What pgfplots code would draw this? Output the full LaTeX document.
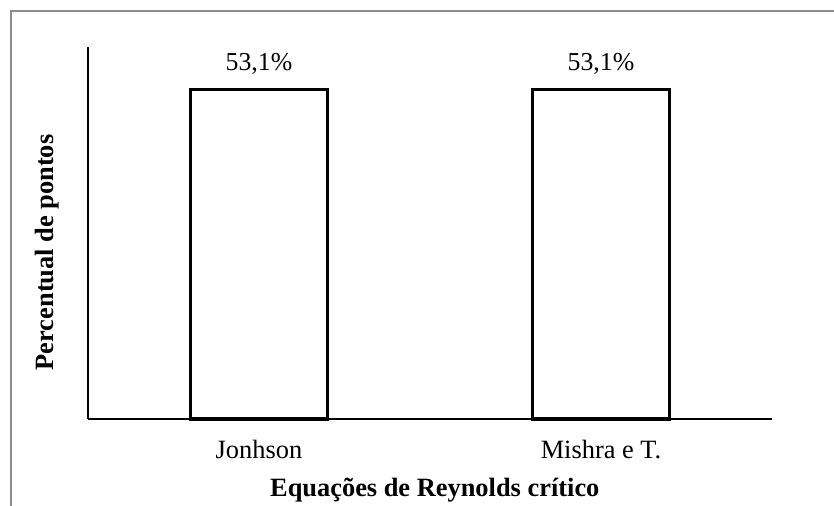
\documentclass[border=0pt]{standalone}
\usepackage{pgfplots}
\pgfplotsset{compat=1.18}
\usepackage{fontspec}
\setmainfont{Liberation Serif}
\begin{document}
\fontsize{13.2pt}{15pt}\selectfont
\begin{tikzpicture}
\useasboundingbox (0,0) rectangle (417pt,252.5pt);
\draw[color=black!45, line width=1pt] (5.5pt,-2pt) -- (5.5pt,247pt) -- (420pt,247pt);
\begin{axis}[
  at={(44pt,43pt)}, anchor=south west,
  scale only axis, width=342pt, height=186pt,
  xmin=-0.5, xmax=1.5, ymin=0, ymax=60,
  axis x line=bottom, axis y line=left,
  axis line style={-, line width=0.8pt, black},
  xtick={0,1}, xticklabels={Jonhson, Mishra e T.},
  ytick=\empty,
  major tick length=0pt,
  xticklabel style={font=\fontsize{13.2pt}{15pt}\selectfont, yshift=-6pt},
  xlabel={\textbf{Equações de Reynolds crítico}},
  xlabel style={font=\fontsize{13.2pt}{15pt}\selectfont, at={(axis description cs:0.507,0)}, anchor=north, yshift=-25pt},
  ylabel={\textbf{Percentual de pontos}},
  ylabel style={font=\fontsize{13.2pt}{15pt}\selectfont, at={(axis description cs:-0.029,0.448)}, anchor=south},
  ybar, bar width=0.4,
  /pgf/number format/assume math mode=true,
  nodes near coords={\pgfmathprintnumber[fixed,precision=1,use comma,zerofill]{\pgfplotspointmeta}\%},
  nodes near coords style={font=\fontsize{12.9pt}{15pt}\selectfont, black, yshift=2.5pt},
  clip=false,
]
\addplot[draw=black, fill=white, line width=1.6pt] coordinates {(0,53.1) (1,53.1)};
\end{axis}
\end{tikzpicture}
\end{document}
